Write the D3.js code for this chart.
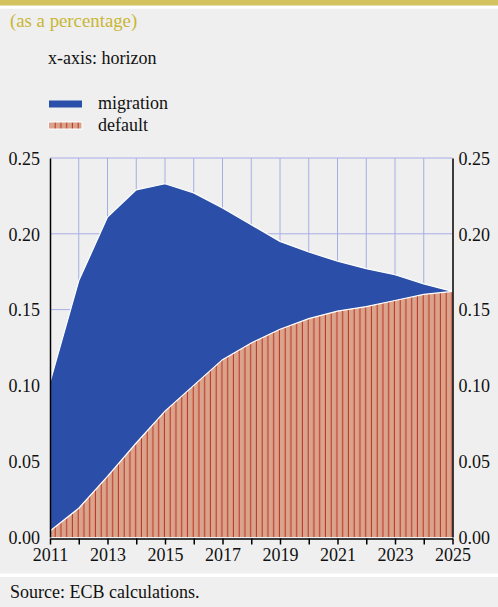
<!DOCTYPE html>
<html><head><meta charset="utf-8">
<script src="https://cdn.jsdelivr.net/npm/d3@7"></script>
<style>
html,body{margin:0;padding:0;background:#efefef;}
svg{display:block;}
text{font-family:"Liberation Serif","Times New Roman",serif;}
</style></head>
<body>
<script>
const years = [2011,2012,2013,2014,2015,2016,2017,2018,2019,2020,2021,2022,2023,2024,2025];
const defaultValues   = [0.004,0.019,0.040,0.062,0.083,0.100,0.117,0.128,0.137,0.144,0.149,0.152,0.156,0.160,0.162];
const migrationValues = [0.098,0.150,0.171,0.167,0.150,0.127,0.100,0.078,0.058,0.044,0.033,0.025,0.017,0.007,0.000];
const yTicks = [0,0.05,0.10,0.15,0.20,0.25];
const xTickLabels = [2011,2013,2015,2017,2019,2021,2023,2025];

const W=498,H=607;
const svg=d3.select("body").append("svg").attr("width",W).attr("height",H);
const defs=svg.append("defs");
const x=d3.scaleLinear().domain([2011,2025]).range([50,452.5]);
const y=d3.scaleLinear().domain([0,0.25]).range([537,158]);

// background bands
svg.append("rect").attr("x",0).attr("y",0).attr("width",W).attr("height",H).attr("fill","#efefef");
svg.append("rect").attr("x",0).attr("y",0).attr("width",W).attr("height",5.7).attr("fill","#d3c35f");
svg.append("rect").attr("x",0).attr("y",5.7).attr("width",W).attr("height",3).attr("fill","#ffffff");
svg.append("rect").attr("x",0).attr("y",573.5).attr("width",W).attr("height",3.5).attr("fill","#ffffff");

// pattern
const pw=(x(2012)-x(2011))/5;
const pat=defs.append("pattern").attr("id","stripes").attr("patternUnits","userSpaceOnUse")
  .attr("x",x(2011)).attr("y",0).attr("width",pw).attr("height",10);
pat.append("rect").attr("width",pw).attr("height",10).attr("fill","#d9a38c");
pat.append("rect").attr("x",pw-1.1).attr("width",1.1).attr("height",10).attr("fill","#bf3b2a");

// titles
svg.append("text").attr("x",10).attr("y",26.5).attr("font-size",18.8).attr("fill","#c9b634").text("(as a percentage)");
svg.append("text").attr("x",48).attr("y",64.3).attr("font-size",18).attr("fill","#111").text("x-axis: horizon");
// legend
svg.append("rect").attr("x",49).attr("y",100.5).attr("width",33).attr("height",7).attr("fill","#2b4fa8");
svg.append("text").attr("x",98).attr("y",108.5).attr("font-size",18).attr("fill","#111").text("migration");
svg.append("rect").attr("x",48.5).attr("y",121.5).attr("width",34).attr("height",8).attr("fill","#fff");
svg.append("rect").attr("x",49.5).attr("y",122.5).attr("width",32).attr("height",6).attr("fill","url(#stripes)");
svg.append("text").attr("x",98).attr("y",130.5).attr("font-size",18).attr("fill","#111").text("default");

// grid
const grid=svg.append("g");
grid.selectAll("line.v").data(years.slice(1,-1)).enter().append("line")
  .attr("x1",d=>x(d)).attr("x2",d=>x(d)).attr("y1",y(0.25)).attr("y2",y(0))
  .attr("stroke","#a7aee6").attr("stroke-width",1);
grid.selectAll("line.h").data(yTicks.slice(1)).enter().append("line")
  .attr("x1",x(2011)).attr("x2",x(2025)).attr("y1",d=>y(d)).attr("y2",d=>y(d))
  .attr("stroke","#a7aee6").attr("stroke-width",1);

// stacked areas
const data=years.map((yr,i)=>({year:yr,default:defaultValues[i],migration:migrationValues[i]}));
const stack=d3.stack().keys(["default","migration"])(data);
const area=d3.area().x(d=>x(d.data.year)).y0(d=>y(d[0])).y1(d=>y(d[1]));
const line=d3.line().x(d=>x(d.data.year)).y(d=>y(d[1]));
svg.append("path").datum(stack[1]).attr("d",area).attr("fill","#2b4fa8");
svg.append("path").datum(stack[0]).attr("d",area).attr("fill","url(#stripes)");
svg.append("path").datum(stack[1]).attr("d",line).attr("fill","none").attr("stroke","#fff").attr("stroke-width",1.2);
svg.append("path").datum(stack[0]).attr("d",line).attr("fill","none").attr("stroke","#fff").attr("stroke-width",1.2);

// axes
const fmt=d3.format(".2f");
const yl=d3.axisLeft(y).tickValues(yTicks).tickFormat(fmt).tickSize(0).tickPadding(10);
const gl=svg.append("g").attr("transform",`translate(${x(2011)},0)`).call(yl);
const yr=d3.axisRight(y).tickValues(yTicks).tickFormat(fmt).tickSize(0).tickPadding(6);
const gr=svg.append("g").attr("transform",`translate(${x(2025)},0)`).call(yr);
[gl,gr].forEach(g=>{
  g.select(".domain").attr("stroke","#000").attr("stroke-width",1.5);
  g.selectAll("text").attr("font-size",18).attr("font-family","Liberation Serif").attr("fill","#111").attr("dy","0.35em");
});
const xa=d3.axisBottom(x).tickValues(years).tickSize(6).tickSizeOuter(0)
  .tickFormat(d=>xTickLabels.includes(d)?String(d):"").tickPadding(4);
const gx=svg.append("g").attr("transform",`translate(0,${y(0)+1.5})`).call(xa);
gx.select(".domain").attr("stroke","#000").attr("stroke-width",1.5);
gx.selectAll(".tick line").attr("stroke","#000").attr("stroke-width",1.5);
gx.selectAll("text").attr("font-size",18).attr("font-family","Liberation Serif").attr("fill","#111");

svg.append("text").attr("x",10).attr("y",598).attr("font-size",18).attr("fill","#111").text("Source: ECB calculations.");
</script>
</body></html>
